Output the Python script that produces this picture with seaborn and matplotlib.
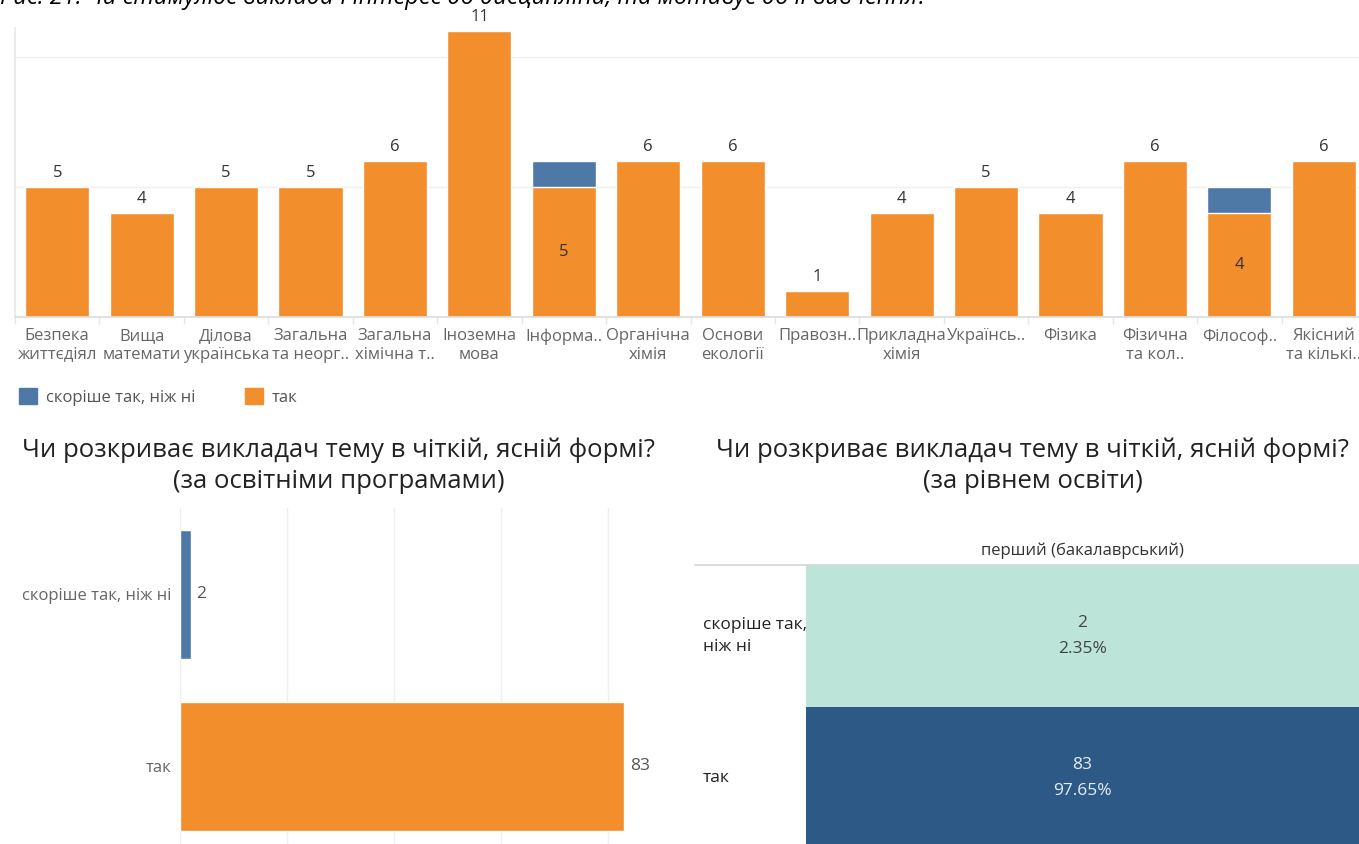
import numpy as np
import pandas as pd
import matplotlib
matplotlib.use('Agg')
import matplotlib.pyplot as plt
import matplotlib.patches as mpatches
from matplotlib.lines import Line2D
from matplotlib.colors import ListedColormap
import seaborn as sns

# top chart: answers per subject
subjects = ['Безпека\nжиттєдіял', 'Вища\nматемати', 'Ділова\nукраїнська', 'Загальна\nта неорг..',
            'Загальна\nхімічна т..', 'Іноземна\nмова', 'Інформа..', 'Органічна\nхімія',
            'Основи\nекології', 'Правозн..', 'Прикладна\nхімія', 'Українсь..',
            'Фізика', 'Фізична\nта кол..', 'Філософ..', 'Якісний\nта кількі..']
tak = [5, 4, 5, 5, 6, 11, 5, 6, 6, 1, 4, 5, 4, 6, 4, 6]
skorishe = [0, 0, 0, 0, 0, 0, 1, 0, 0, 0, 0, 0, 0, 0, 1, 0]

# bottom charts
answers = ['скоріше так, ніж ні', 'так']
answer_counts = [2, 83]
answer_pct = [2.35, 97.65]
level = 'перший (бакалаврський)'

caption = 'Рис. 21. Чи стимулює викладач інтерес до дисципліни, та мотивує до її вивчення?'
title_left = 'Чи розкриває викладач тему в чіткій, ясній формі?\n(за освітніми програмами)'
title_right = 'Чи розкриває викладач тему в чіткій, ясній формі?\n(за рівнем освіти)'

orange = '#F28E2B'
blue = '#4E79A7'
teal = '#BCE4D8'
navy = '#2C5985'
grey_txt = '#666666'
grid_c = '#EFEFEF'

sns.set_theme(style='white')
plt.rcParams['font.family'] = ['Open Sans', 'DejaVu Sans']

W, H = 1359, 844
fig = plt.figure(figsize=(W / 100, H / 100), dpi=100)
fig.patch.set_facecolor('white')


def box(x0, y0, x1, y1):
    return [x0 / W, 1 - y1 / H, (x1 - x0) / W, (y1 - y0) / H]


# caption of the page, cut at the top edge as in the screenshot
fig.text(0, 1 - 4 / H, caption, fontsize=17, style='italic', color='black', va='baseline', ha='left')

# ---- top stacked bars
top_df = pd.DataFrame({'subject': subjects, 'tak': tak, 'total': np.add(tak, skorishe)})
ax1 = fig.add_axes(box(15, 28, 1366, 317))
sns.barplot(data=top_df, x='subject', y='total', color=blue, width=0.76, saturation=1, ax=ax1)
sns.barplot(data=top_df, x='subject', y='tak', color=orange, width=0.76, saturation=1, ax=ax1)
ax1.set_xlim(-0.5, 15.5)
ax1.set_ylim(0, 11.1)
ax1.set_yticks([0, 5, 10])
ax1.set_yticklabels([])
ax1.yaxis.grid(True, color=grid_c, linewidth=1)
ax1.set_axisbelow(True)
ax1.set_xlabel('')
ax1.set_ylabel('')
for sp in ['top', 'right']:
    ax1.spines[sp].set_visible(False)
ax1.spines['left'].set_color('#E8E8E8')
ax1.spines['bottom'].set_color('#DDDDDD')
ax1.tick_params(axis='x', which='major', length=0, pad=8, labelsize=12, labelcolor=grey_txt)
ax1.tick_params(axis='y', length=0)
ax1.set_xticks(np.arange(-0.5, 16, 1), minor=True)
ax1.tick_params(axis='x', which='minor', bottom=True, length=5, color='#E6E6E6')
for i, (t, s) in enumerate(zip(tak, skorishe)):
    if s == 0:
        ax1.annotate(str(t), (i, t), xytext=(0, 4), textcoords='offset points',
                     ha='center', va='bottom', fontsize=12, color='#333333')
    else:
        ax1.text(i, t / 2, str(t), ha='center', va='center', fontsize=12, color='#333333')

handles = [mpatches.Patch(color=blue), mpatches.Patch(color=orange)]
leg = fig.legend(handles, answers, loc='center left', bbox_to_anchor=(4 / W, 1 - 397 / H), ncol=2,
                 frameon=False, fontsize=12, handlelength=1.1, handleheight=1.1,
                 handletextpad=0.5, columnspacing=3.0)
for t in leg.get_texts():
    t.set_color('#555555')

# ---- bottom left: horizontal bars
fig.text(339 / W, 1 - 466 / H, title_left, ha='center', va='center', fontsize=18.5,
         color='#222222', linespacing=1.3)
bl_df = pd.DataFrame({'answer': answers, 'count': answer_counts})
ax2 = fig.add_axes(box(180, 508, 690, 852))
sns.barplot(data=bl_df, y='answer', x='count', hue='answer', palette=[blue, orange], orient='h',
            width=0.75, saturation=1, legend=False, ax=ax2)
ax2.set_xlim(0, 95.3)
ax2.set_xticks([0, 20, 40, 60, 80])
ax2.set_xticklabels([])
ax2.xaxis.grid(True, color=grid_c, linewidth=1)
ax2.set_axisbelow(True)
ax2.set_xlabel('')
ax2.set_ylabel('')
for sp in ax2.spines.values():
    sp.set_visible(False)
ax2.tick_params(axis='y', length=0, pad=6, labelsize=12, labelcolor=grey_txt)
ax2.tick_params(axis='x', length=0)
for i, c in enumerate(answer_counts):
    ax2.annotate(str(c), (c, i), xytext=(4, 0), textcoords='offset points',
                 ha='left', va='center', fontsize=12.5, color='#555555')

# ---- bottom right: table heatmap
fig.text(1033 / W, 1 - 466 / H, title_right, ha='center', va='center', fontsize=18.5,
         color='#222222', linespacing=1.3)
hm = pd.DataFrame({level: answer_counts}, index=answers)
annot = np.array([[f'{c}\n{p:.2f}%'] for c, p in zip(answer_counts, answer_pct)])
ax3 = fig.add_axes(box(806, 565, 1359, 849))
sns.heatmap(hm, cmap=ListedColormap([teal, navy]), annot=annot, fmt='', cbar=False, ax=ax3,
            annot_kws={'fontsize': 12.5})
ax3.xaxis.tick_top()
ax3.set_xlabel('')
ax3.set_ylabel('')
ax3.tick_params(axis='x', length=0, pad=4, labelsize=12, labelcolor='#333333')
ax3.set_yticks([0.5, 1.5])
ax3.set_yticklabels([])
ax3.tick_params(axis='y', length=0)
# row headers as plain text (left aligned like the table)
row_names = ['скоріше так,\nніж ні', 'так']
for i, name in enumerate(row_names):
    ax3.text(703 / W, 1 - (636 + 142 * i) / H, name, transform=fig.transFigure, ha='left',
             va='center', fontsize=12.5, color='#222222', linespacing=1.55)
for t in list(ax3.texts):
    if t.get_transform() == fig.transFigure:
        continue
    t.set_linespacing(1.9)
    if t.get_text().startswith('83'):
        t.set_color('#E8EEF4')
    else:
        t.set_color('#444444')
fig.add_artist(Line2D([695 / W, 1], [1 - 565 / H, 1 - 565 / H], color='#D5D5D5', linewidth=1.2))

fig.savefig('out.png', dpi=100, facecolor='white')
